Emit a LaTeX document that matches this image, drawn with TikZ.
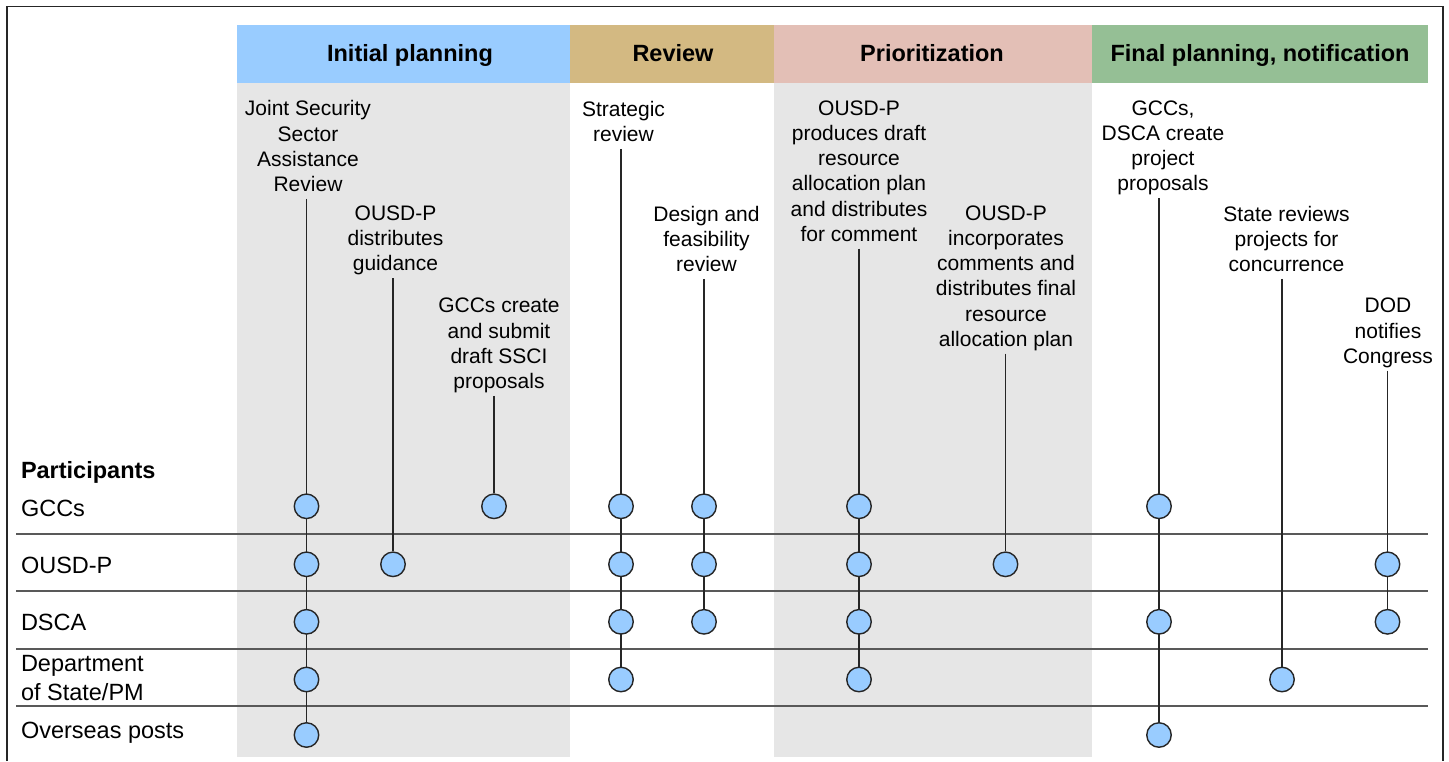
\documentclass[tikz,border=0pt]{standalone}
\usepackage{fontspec}
\setmainfont{Liberation Sans}
\usetikzlibrary{backgrounds}
\definecolor{hdrblue}{HTML}{99CCFF}
\definecolor{hdrtan}{HTML}{D3B982}
\definecolor{hdrpink}{HTML}{E3BFB6}
\definecolor{hdrgreen}{HTML}{95BF95}
\definecolor{graybg}{HTML}{E6E6E6}
\definecolor{dotfill}{HTML}{99CCFF}
\definecolor{inkdark}{HTML}{262626}
\definecolor{sepgray}{HTML}{595959}
\begin{document}
\begin{tikzpicture}[x=1pt,y=-1pt,
  lbl/.style={font=\fontsize{21}{25.1}\selectfont, align=center, inner sep=0pt, outer sep=0pt, anchor=north, text=black},
  plbl/.style={font=\fontsize{23.5}{28.4}\selectfont, inner sep=0pt, outer sep=0pt, anchor=base west, text=black},
  hdr/.style={font=\fontsize{23.5}{28.4}\selectfont\bfseries, inner sep=0pt, anchor=base, text=black},
  dot/.style={circle, minimum size=24.5pt, inner sep=0pt, fill=dotfill, draw=inkdark, line width=1.4pt},
  conn/.style={draw=inkdark, line width=1.5pt},
  sepline/.style={draw=sepgray, line width=1.9pt}]
\useasboundingbox (0,0) rectangle (1449,761);

% outer frame (bottom edge is cut off)
\draw[inkdark, line width=1.5pt] (7,761) -- (7,6.5) -- (1443,6.5) -- (1443,761);

% header texts
\node[hdr] (hInit) at (410,61.7) {Initial planning};
\node[hdr] (hRev) at (673,61.7) {Review};
\node[hdr] (hPri) at (932,61.7) {Prioritization};
\node[hdr] (hFin) at (1260,61.7) {Final planning, notification};

% participants
\node[plbl, font=\fontsize{23.5}{28.4}\selectfont\bfseries] (pTitle) at (21,478.3) {Participants};
\node[plbl] (pG) at (21,516) {GCCs};
\node[plbl] (pO) at (21,573.3) {OUSD-P};
\node[plbl] (pD) at (21,630.7) {DSCA};
\node[plbl, anchor=north west, align=left] (pS) at (21,655.5) {Department\\of State/PM};
\node[plbl] (pP) at (21,738.3) {Overseas posts};

% activity labels
\node[lbl] (tA) at (308,100.7) {Joint Security\\Sector\\Assistance\\Review\strut};
\node[lbl] (tB) at (395.5,206) {OUSD-P\\distributes\\guidance\strut};
\node[lbl] (tC) at (499,298.3) {GCCs create\\and submit\\draft SSCI\\proposals\strut};
\node[lbl] (tD) at (623.5,101) {Strategic\\review\strut};
\node[lbl] (tE) at (706.5,206) {Design and\\feasibility\\review\strut};
\node[lbl] (tF) at (859,101) {OUSD-P\\produces draft\\resource\\allocation plan\\and distributes\\for comment\strut};
\node[lbl] (tG) at (1006,206) {OUSD-P\\incorporates\\comments and\\distributes final\\resource\\allocation plan\strut};
\node[lbl] (tH) at (1163,101) {GCCs,\\DSCA create\\project\\proposals\strut};
\node[lbl] (tI) at (1286.5,206) {State reviews\\projects for\\concurrence\strut};
\node[lbl] (tJ) at (1388,298.3) {DOD\\notifies\\Congress\strut};

% participation dots
\node[dot] (a1) at (306.5,506.3) {};
\node[dot] (a2) at (306.5,564.3) {};
\node[dot] (a3) at (306.5,621.8) {};
\node[dot] (a4) at (306.5,679.5) {};
\node[dot] (a5) at (306.5,735) {};
\node[dot] (b2) at (393,564.3) {};
\node[dot] (c1) at (494,506.3) {};
\node[dot] (d1) at (621,506.3) {};
\node[dot] (d2) at (621,564.3) {};
\node[dot] (d3) at (621,621.8) {};
\node[dot] (d4) at (621,679.5) {};
\node[dot] (e1) at (704,506.3) {};
\node[dot] (e2) at (704,564.3) {};
\node[dot] (e3) at (704,621.8) {};
\node[dot] (f1) at (859,506.3) {};
\node[dot] (f2) at (859,564.3) {};
\node[dot] (f3) at (859,621.8) {};
\node[dot] (f4) at (859,679.5) {};
\node[dot] (g2) at (1005.5,564.3) {};
\node[dot] (h1) at (1159,506.3) {};
\node[dot] (h3) at (1159,621.8) {};
\node[dot] (h5) at (1159,735) {};
\node[dot] (i4) at (1282,679.5) {};
\node[dot] (j2) at (1387.5,564.3) {};
\node[dot] (j3) at (1387.5,621.8) {};

\begin{scope}[on background layer]
  % column shading
  \fill[graybg] (237,83) rectangle (570,756.7);
  \fill[graybg] (773.5,83) rectangle (1091.5,756.7);
  % header bands
  \fill[hdrblue] (237,25) rectangle (570,83);
  \fill[hdrtan] (570,25) rectangle (773.5,83);
  \fill[hdrpink] (773.5,25) rectangle (1091.5,83);
  \fill[hdrgreen] (1091.5,25) rectangle (1428,83);
  % row separators
  \draw[sepline] (16,533.7) -- (1428,533.7);
  \draw[sepline] (16,591) -- (1428,591);
  \draw[sepline] (16,649) -- (1428,649);
  \draw[sepline] (16,706) -- (1428,706);
  % connectors
  \draw[conn] (tA.south -| a1) -- (a5);
  \draw[conn] (tB.south -| b2) -- (b2);
  \draw[conn] (tC.south -| c1) -- (c1);
  \draw[conn] (tD.south -| d1) -- (d4);
  \draw[conn] (tE.south -| e1) -- (e3);
  \draw[conn] (tF.south -| f1) -- (f4);
  \draw[conn] (tG.south -| g2) -- (g2);
  \draw[conn] (tH.south -| h1) -- (h5);
  \draw[conn] (tI.south -| i4) -- (i4);
  \draw[conn] (tJ.south -| j2) -- (j3);
\end{scope}
\end{tikzpicture}
\end{document}
